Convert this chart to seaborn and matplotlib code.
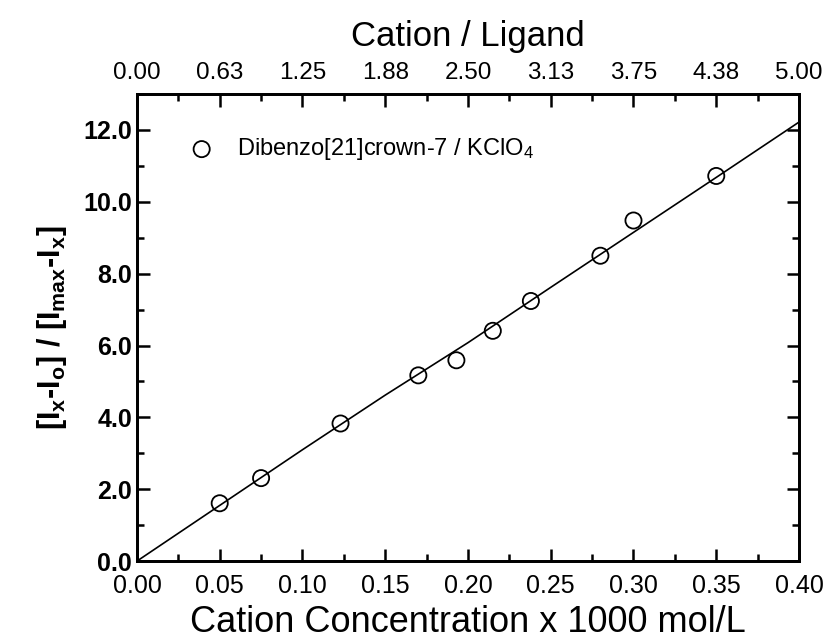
import matplotlib
matplotlib.use('Agg')
import matplotlib.pyplot as plt
from matplotlib.ticker import MultipleLocator, FormatStrFormatter
import seaborn as sns
import pandas as pd

# data
conc = [0.050, 0.075, 0.123, 0.170, 0.193, 0.215, 0.238, 0.280, 0.300, 0.350]
ratio = [1.61, 2.31, 3.83, 5.17, 5.59, 6.41, 7.24, 8.50, 9.48, 10.72]
fit_x = [0.00, 0.05, 0.10, 0.15, 0.20, 0.25, 0.30, 0.35, 0.40]
fit_y = [0.00, 1.55, 3.10, 4.62, 6.08, 7.62, 9.15, 10.68, 12.22]
top_ticks = [0.0, 0.625, 1.25, 1.875, 2.5, 3.125, 3.75, 4.375, 5.0]
top_labels = ['0.00', '0.63', '1.25', '1.88', '2.50', '3.13', '3.75', '4.38', '5.00']

sns.set_style('ticks')
plt.rcParams['font.family'] = ['Liberation Sans', 'DejaVu Sans']
plt.rcParams['mathtext.fontset'] = 'custom'
plt.rcParams['mathtext.rm'] = 'Liberation Sans'
plt.rcParams['mathtext.bf'] = 'Liberation Sans:bold'
plt.rcParams['text.color'] = 'black'
plt.rcParams['axes.labelcolor'] = 'black'
plt.rcParams['xtick.color'] = 'black'
plt.rcParams['ytick.color'] = 'black'
plt.rcParams['axes.edgecolor'] = 'black'

df = pd.DataFrame({'x': conc, 'y': ratio})
fit = pd.DataFrame({'x': fit_x, 'y': fit_y})

fig = plt.figure(figsize=(8.25, 6.42), dpi=100)
ax = fig.add_axes([0.166, 0.126, 0.8025, 0.7275])

sns.lineplot(data=fit, x='x', y='y', ax=ax, color='black', linewidth=1.2)
sns.scatterplot(data=df, x='x', y='y', ax=ax, marker='o', s=135,
                facecolors='none', edgecolor='black', linewidth=1.3,
                label=r'Dibenzo[21]crown-7 / KClO$\mathregular{_4}$')

ax.set_xlim(0, 0.40)
ax.set_ylim(0, 13.0)
ax.xaxis.set_major_locator(MultipleLocator(0.05))
ax.xaxis.set_minor_locator(MultipleLocator(0.025))
ax.yaxis.set_major_locator(MultipleLocator(2.0))
ax.yaxis.set_minor_locator(MultipleLocator(1.0))
ax.xaxis.set_major_formatter(FormatStrFormatter('%.2f'))
ax.yaxis.set_major_formatter(FormatStrFormatter('%.1f'))

ax.tick_params(which='both', direction='in', right=True, labelsize=18, width=1.8)
ax.tick_params(which='major', length=9)
ax.tick_params(which='minor', length=5)
ax.tick_params(axis='x', pad=9)
for lab in ax.get_yticklabels():
    lab.set_fontweight('bold')
for sp in ax.spines.values():
    sp.set_linewidth(2)

ax.set_xlabel('Cation Concentration x 1000 mol/L', fontsize=26, labelpad=5)
ax.set_ylabel(r'[I$\mathregular{_x}$-I$\mathregular{_o}$] / [I$\mathregular{_{max}}$-I$\mathregular{_x}$]',
              fontsize=22, fontweight='bold', labelpad=10)

top = ax.twiny()
top.set_xlim(0, 5.0)
top.set_xticks(top_ticks)
top.set_xticklabels(top_labels)
top.set_xticks([t + 0.3125 for t in top_ticks[:-1]], minor=True)
top.tick_params(which='both', direction='in', labelsize=17.5, width=1.8, pad=7)
top.tick_params(which='major', length=9)
top.tick_params(which='minor', length=5)
top.set_xlabel('Cation / Ligand', fontsize=25, labelpad=12)
for sp in top.spines.values():
    sp.set_linewidth(2)

ax.legend(loc='upper left', frameon=False, fontsize=17, handletextpad=0.5,
          bbox_to_anchor=(0.03, 0.955))

fig.savefig('out.png', dpi=100)
